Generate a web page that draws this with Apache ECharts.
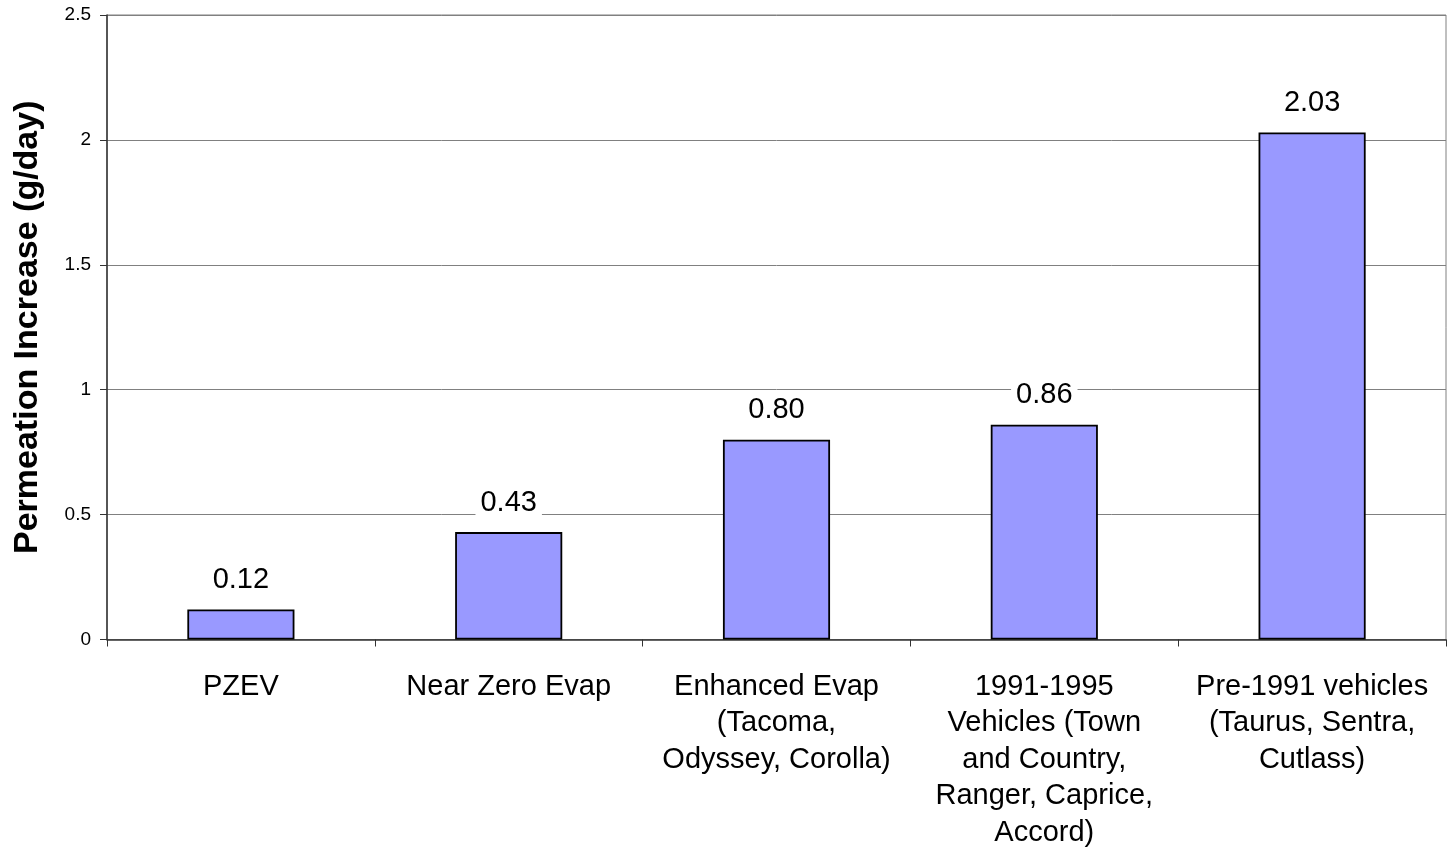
<!DOCTYPE html>
<html>
<head>
<meta charset="utf-8">
<script src="https://cdn.jsdelivr.net/npm/echarts@6/dist/echarts.min.js"></script>
<style>
  html, body { margin: 0; padding: 0; background: #ffffff; }
  #chart { width: 1448px; height: 851px; }
</style>
</head>
<body>
<div id="chart"></div>
<script>
// Vehicle classes (x axis) and the permeation increase for each
const categories = [
  'PZEV',
  'Near Zero Evap',
  'Enhanced Evap\n(Tacoma,\nOdyssey, Corolla)',
  '1991-1995\nVehicles (Town\nand Country,\nRanger, Caprice,\nAccord)',
  'Pre-1991 vehicles\n(Taurus, Sentra,\nCutlass)'
];
const permeationIncrease = [0.12, 0.43, 0.80, 0.86, 2.03];
const yAxisTitle = 'Permeation Increase (g/day)';

const FONT = '"Liberation Sans", Arial, sans-serif';

const chart = echarts.init(document.getElementById('chart'), null, { renderer: 'canvas' });
chart.setOption({
  animation: false,
  backgroundColor: '#ffffff',
  grid: { left: 107, top: 15, right: 2, bottom: 208, show: true, borderColor: '#808080', borderWidth: 1 },
  xAxis: {
    type: 'category',
    data: categories,
    axisLine: { lineStyle: { color: '#333333', width: 1.5 } },
    axisTick: { show: true, length: 7, lineStyle: { color: '#333333' } },
    axisLabel: {
      interval: 0,
      margin: 29,
      color: '#000000',
      fontFamily: FONT,
      fontSize: 29,
      lineHeight: 36.5,
      align: 'center'
    }
  },
  yAxis: {
    type: 'value',
    min: 0,
    max: 2.5,
    interval: 0.5,
    name: yAxisTitle,
    nameLocation: 'middle',
    nameGap: 62,
    nameTextStyle: { color: '#000000', fontFamily: FONT, fontSize: 34, fontWeight: 'bold' },
    axisLine: { show: true, lineStyle: { color: '#333333', width: 1.5 } },
    axisTick: { show: true, length: 7, lineStyle: { color: '#333333' } },
    axisLabel: { margin: 16, color: '#000000', fontFamily: FONT, fontSize: 19 },
    splitLine: { lineStyle: { color: '#808080', width: 1 } }
  },
  series: [{
    type: 'bar',
    data: permeationIncrease,
    barWidth: '40%',
    itemStyle: { color: '#9999ff', borderColor: '#000000', borderWidth: 1.8 },
    label: {
      show: true,
      position: 'top',
      distance: 13,
      formatter: p => p.value.toFixed(2),
      color: '#000000',
      fontFamily: FONT,
      fontSize: 29,
      backgroundColor: '#ffffff',
      padding: [2, 5]
    }
  }]
});
</script>
</body>
</html>
